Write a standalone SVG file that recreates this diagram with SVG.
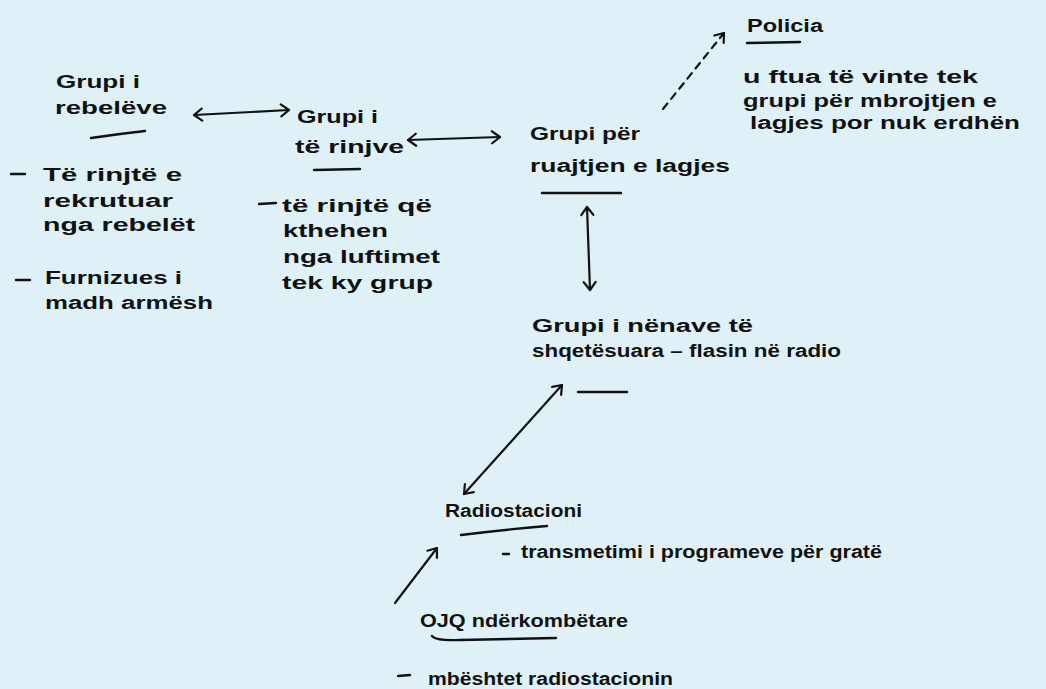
<svg xmlns="http://www.w3.org/2000/svg" width="1046" height="689" viewBox="0 0 1046 689">
  <style>
    text { font-family: "Liberation Sans", Arial, sans-serif; font-weight: bold; font-size: 18px; fill: #111; }
    .ln { stroke: #111; stroke-width: 2.4; fill: none; stroke-linecap: round; }
    .arr { stroke: #111; stroke-width: 2.2; fill: none; stroke-linecap: round; }
    .dash { stroke-dasharray: 7 6; }
  </style>
  <defs>
    <marker id="head" viewBox="-10 -8 12 16" markerWidth="12" markerHeight="16" refX="0" refY="0" orient="auto-start-reverse" markerUnits="userSpaceOnUse">
      <path d="M -8 -6 L 0 0 L -8 6" fill="none" stroke="#111" stroke-width="2.2" stroke-linecap="round" stroke-linejoin="round"/>
    </marker>
  </defs>
  <rect width="1046" height="689" fill="#dff1f6"/>

  <g id="connectors">
    <path class="arr" d="M 194 115 L 289 110" marker-start="url(#head)" marker-end="url(#head)"/>
    <path class="arr" d="M 408 140 L 500 137" marker-start="url(#head)" marker-end="url(#head)"/>
    <path class="arr dash" d="M 663 109 L 724 33" marker-end="url(#head)"/>
    <path class="arr" d="M 587 207 L 590 290" marker-start="url(#head)" marker-end="url(#head)"/>
    <path class="arr" d="M 562 385 L 464 494" marker-start="url(#head)" marker-end="url(#head)"/>
    <path class="arr" d="M 395 603 L 437 548" marker-end="url(#head)"/>
  </g>

  <g id="node-rebelet">
    <text x="56" y="88" textLength="84" lengthAdjust="spacingAndGlyphs">Grupi i</text>
    <text x="55" y="114" textLength="112" lengthAdjust="spacingAndGlyphs">rebelëve</text>
    <path class="ln" d="M 91 138 Q 118 134 145 131"/>
    <path class="ln" d="M 11 174 L 25 174"/>
    <text x="43" y="181" textLength="139" lengthAdjust="spacingAndGlyphs">Të rinjtë e</text>
    <text x="43" y="207" textLength="130" lengthAdjust="spacingAndGlyphs">rekrutuar</text>
    <text x="43" y="231" textLength="152" lengthAdjust="spacingAndGlyphs">nga rebelët</text>
    <path class="ln" d="M 16 280 L 30 280"/>
    <text x="45" y="284" textLength="137" lengthAdjust="spacingAndGlyphs">Furnizues i</text>
    <text x="45" y="309" textLength="168" lengthAdjust="spacingAndGlyphs">madh armësh</text>
  </g>

  <g id="node-rinjve">
    <text x="297" y="123" textLength="81" lengthAdjust="spacingAndGlyphs">Grupi i</text>
    <text x="295" y="153" textLength="109" lengthAdjust="spacingAndGlyphs">të rinjve</text>
    <path class="ln" d="M 314 170 L 360 169"/>
    <path class="ln" d="M 259 204 L 276 203"/>
    <text x="282" y="212" textLength="150" lengthAdjust="spacingAndGlyphs">të rinjtë që</text>
    <text x="283" y="237" textLength="105" lengthAdjust="spacingAndGlyphs">kthehen</text>
    <text x="283" y="263" textLength="157" lengthAdjust="spacingAndGlyphs">nga luftimet</text>
    <text x="282" y="289" textLength="151" lengthAdjust="spacingAndGlyphs">tek ky grup</text>
  </g>

  <g id="node-lagjes">
    <text x="530" y="140" textLength="110" lengthAdjust="spacingAndGlyphs">Grupi për</text>
    <text x="530" y="172" textLength="200" lengthAdjust="spacingAndGlyphs">ruajtjen e lagjes</text>
    <path class="ln" d="M 542 193 L 621 193"/>
  </g>

  <g id="node-policia">
    <text x="747" y="32" textLength="76" lengthAdjust="spacingAndGlyphs">Policia</text>
    <path class="ln" d="M 747 43 L 800 42"/>
    <text x="743" y="83" textLength="235" lengthAdjust="spacingAndGlyphs">u ftua të vinte tek</text>
    <text x="743" y="107" textLength="254" lengthAdjust="spacingAndGlyphs">grupi për mbrojtjen e</text>
    <text x="750" y="129" textLength="270" lengthAdjust="spacingAndGlyphs">lagjes por nuk erdhën</text>
  </g>

  <g id="node-nenave">
    <text x="532" y="332" textLength="221" lengthAdjust="spacingAndGlyphs">Grupi i nënave të</text>
    <text x="532" y="357" textLength="309" lengthAdjust="spacingAndGlyphs">shqetësuara – flasin në radio</text>
    <path class="ln" d="M 578 392 L 627 392"/>
  </g>

  <g id="node-radio">
    <text x="445" y="517" textLength="137" lengthAdjust="spacingAndGlyphs">Radiostacioni</text>
    <path class="ln" d="M 461 535 Q 500 530 547 526"/>
    <path class="ln" d="M 503 554 L 509 554"/>
    <text x="521" y="558" textLength="361" lengthAdjust="spacingAndGlyphs">transmetimi i programeve për gratë</text>
  </g>

  <g id="node-ojq">
    <text x="420" y="627" textLength="208" lengthAdjust="spacingAndGlyphs">OJQ ndërkombëtare</text>
    <path class="ln" d="M 432 636 Q 436 641 460 640 L 556 638"/>
    <path class="ln" d="M 398 676 L 410 675"/>
    <text x="428" y="685" textLength="245" lengthAdjust="spacingAndGlyphs">mbështet radiostacionin</text>
  </g>
</svg>
